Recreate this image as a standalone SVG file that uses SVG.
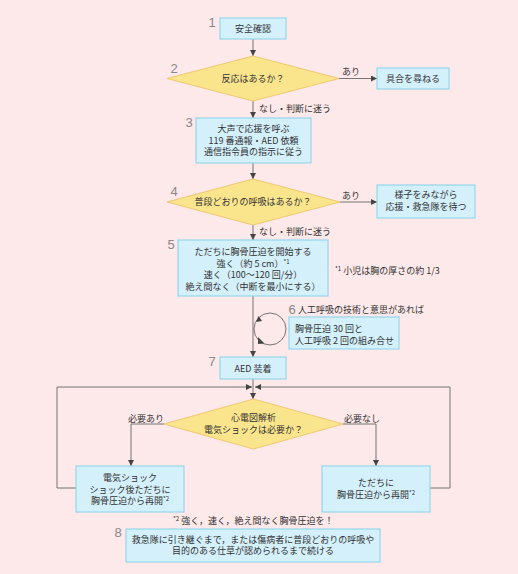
<svg xmlns="http://www.w3.org/2000/svg" width="518" height="574" viewBox="0 0 518 574">
<defs>
<marker id="arr" viewBox="0 0 10 10" refX="10" refY="5" markerWidth="6" markerHeight="6" orient="auto" markerUnits="userSpaceOnUse">
<path d="M0,0 L10,5 L0,10 z" fill="#444"/>
</marker>
</defs>
<style>
.box{fill:#d3f0fb;stroke:#86d2ea;stroke-width:1}
.dia{fill:#fbe58c;stroke:#f0c870;stroke-width:1}
.t{font-family:"Noto Sans CJK JP","Noto Sans",sans-serif;font-size:9px;fill:#333;text-anchor:middle}
.l{font-family:"Noto Sans CJK JP","Noto Sans",sans-serif;font-size:9px;fill:#333}
.n{font-family:"Liberation Sans",sans-serif;font-size:13px;fill:#888;text-anchor:middle}
.c{fill:none;stroke:#666;stroke-width:0.9}
.sup{font-size:6px}
</style>
<rect x="0" y="0" width="518" height="574" fill="#fde9e9"/>

<g id="connectors">
<path class="c" d="M253,39 V56" marker-end="url(#arr)"/>
<path class="c" d="M339,78.5 H377" marker-end="url(#arr)"/>
<path class="c" d="M253,101 V118" marker-end="url(#arr)"/>
<path class="c" d="M253,163 V179" marker-end="url(#arr)"/>
<path class="c" d="M340,202 H377" marker-end="url(#arr)"/>
<path class="c" d="M253,225 V240" marker-end="url(#arr)"/>
<path class="c" d="M253,296 V357" marker-end="url(#arr)"/>
<circle class="c" cx="270" cy="329" r="16"/>
<path d="M256,322 L258.5,316 L262,321 z" fill="#444"/>
<path d="M258,337 L264.5,343.5 L258,344 z" fill="#444"/>
<path class="c" d="M253,379 V399" marker-end="url(#arr)"/>
<path class="c" d="M76,488 H57 V387 H252" marker-end="url(#arr)"/>
<path class="c" d="M430,488 H450 V387 H255" marker-end="url(#arr)"/>
<path class="c" d="M164,424 H131 V466" marker-end="url(#arr)"/>
<path class="c" d="M343,424 H376 V466" marker-end="url(#arr)"/>
<text class="l" x="342" y="75">あり</text>
<text class="l" x="259" y="112">なし・判断に迷う</text>
<text class="l" x="342" y="199">あり</text>
<text class="l" x="259" y="235">なし・判断に迷う</text>
<text class="l" x="128" y="422">必要あり</text>
<text class="l" x="344" y="422">必要なし</text>
</g>

<g id="n1">
<rect class="box" x="220" y="18" width="66" height="21"/>
<text class="t" x="253" y="32">安全確認</text>
<text class="n" x="212" y="27">1</text>
</g>
<g id="n2">
<polygon class="dia" points="253,56 339,78.5 253,101 167,78.5"/>
<text class="t" x="253" y="82">反応はあるか？</text>
<text class="n" x="174" y="73">2</text>
</g>
<g id="n2a">
<rect class="box" x="377" y="68" width="72" height="21"/>
<text class="t" x="413" y="82">具合を尋ねる</text>
</g>
<g id="n3">
<rect class="box" x="196" y="118" width="115" height="45"/>
<text class="t" x="253.5" y="132">大声で応援を呼ぶ</text>
<text class="t" x="253.5" y="143.5">119 番通報・AED 依頼</text>
<text class="t" x="253.5" y="155">通信指令員の指示に従う</text>
<text class="n" x="189" y="127">3</text>
</g>
<g id="n4">
<polygon class="dia" points="253,179 340,202 253,225 167,202"/>
<text class="t" x="253" y="205">普段どおりの呼吸はあるか？</text>
<text class="n" x="174" y="196">4</text>
</g>
<g id="n4a">
<rect class="box" x="377" y="185" width="98" height="33"/>
<text class="t" x="426" y="198">様子をみながら</text>
<text class="t" x="426" y="210">応援・救急隊を待つ</text>
</g>
<g id="n5">
<rect class="box" x="178" y="240" width="150" height="56"/>
<text class="t" x="253" y="255">ただちに胸骨圧迫を開始する</text>
<text class="t" x="253" y="266.5">強く（約 5 cm）<tspan class="sup" dy="-3">*1</tspan></text>
<text class="t" x="253" y="278">速く（100〜120 回/分）</text>
<text class="t" x="253" y="289.5">絶え間なく（中断を最小にする）</text>
<text class="n" x="171" y="249">5</text>
<text class="l" x="335" y="274"><tspan class="sup" dy="-3">*1</tspan><tspan dy="3"> 小児は胸の厚さの約 1/3</tspan></text>
</g>
<g id="n6">
<text class="n" x="292" y="314">6</text>
<text class="l" x="298" y="313">人工呼吸の技術と意思があれば</text>
<rect class="box" x="289" y="317" width="110" height="32"/>
<text class="l" x="295" y="331.5">胸骨圧迫 30 回と</text>
<text class="l" x="295" y="343.5">人工呼吸 2 回の組み合せ</text>
</g>
<g id="n7">
<rect class="box" x="220" y="357" width="66" height="22"/>
<text class="t" x="253" y="372">AED 装着</text>
<text class="n" x="212" y="366">7</text>
</g>
<g id="n8d">
<polygon class="dia" points="253.5,399 343,424 253.5,449 164,424"/>
<text class="t" x="253.5" y="421">心電図解析</text>
<text class="t" x="253.5" y="432.5">電気ショックは必要か？</text>
</g>
<g id="nL">
<rect class="box" x="76" y="466" width="108" height="46"/>
<text class="t" x="130" y="481">電気ショック</text>
<text class="t" x="130" y="492.5">ショック後ただちに</text>
<text class="t" x="130" y="504">胸骨圧迫から再開<tspan class="sup" dy="-3">*2</tspan></text>
</g>
<g id="nR">
<rect class="box" x="322" y="466" width="108" height="46"/>
<text class="t" x="376" y="486">ただちに</text>
<text class="t" x="376" y="497.5">胸骨圧迫から再開<tspan class="sup" dy="-3">*2</tspan></text>
</g>
<g id="n8">
<text class="l" x="173" y="524"><tspan class="sup" dy="-3">*2</tspan><tspan dy="3"> 強く，速く，絶え間なく胸骨圧迫を！</tspan></text>
<rect class="box" x="126" y="529" width="254" height="33"/>
<text class="t" x="253" y="542.5">救急隊に引き継ぐまで，または傷病者に普段どおりの呼吸や</text>
<text class="t" x="253" y="554">目的のある仕草が認められるまで続ける</text>
<text class="n" x="118" y="537">8</text>
</g>
</svg>
